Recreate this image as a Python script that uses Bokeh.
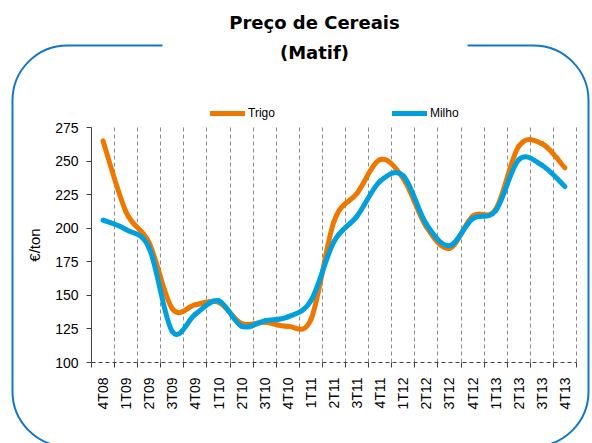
import math
import numpy as np
from bokeh.plotting import figure
from bokeh.models import (Range1d, FixedTicker, Legend, LegendItem,
                          BoxAnnotation, Label, Grid)
from bokeh.embed import file_html
from bokeh.resources import INLINE

# ---------------- data ----------------
quarters = ["4T08", "1T09", "2T09", "3T09", "4T09", "1T10", "2T10", "3T10",
            "4T10", "1T11", "2T11", "3T11", "4T11", "1T12", "2T12", "3T12",
            "4T12", "1T13", "2T13", "3T13", "4T13"]
trigo = [265, 212, 189, 140, 143, 145, 129, 130, 127, 132, 205, 226,
         251, 237, 201, 185, 209, 214, 261, 263, 245]
milho = [206, 199, 185, 123, 136, 146, 127, 131, 134, 146, 190, 209,
         235, 239, 203, 187, 207, 213, 251, 247, 231]
y_ticks = [100, 125, 150, 175, 200, 225, 250, 275]
title_lines = ["Preço de Cereais", "(Matif)"]
y_label = "€/ton"

# ---------------- layout (pixels on the canvas) ----------------
W, H = 592, 443
PL, PR, PT, PB = 91, 576, 127, 362   # plot area edges

ORANGE = "#EE7700"
BLUE = "#00A0DE"
FRAME_BLUE = "#1077CC"
AXIS = "#404040"

n = len(quarters)
centers = [i + 0.5 for i in range(n)]
boundaries = list(range(0, n + 1))

ymin, ymax = y_ticks[0], y_ticks[-1]
xu = (PR - PL) / n                # pixels per category
yu = (PB - PT) / (ymax - ymin)    # pixels per unit
x_range = Range1d(-PL / xu, n + (W - PR) / xu)
y_range = Range1d(ymin - (H - PB) / yu, ymax + PT / yu)

p = figure(width=W, height=H, output_backend="svg", toolbar_location=None,
           x_range=x_range, y_range=y_range,
           min_border=0, min_border_left=0, min_border_right=0,
           min_border_top=0, min_border_bottom=0)
p.title.visible = False
p.outline_line_color = None
p.background_fill_color = "white"
p.border_fill_color = "white"


def bezier_source(vals):
    xs = np.asarray(centers, float)
    ys = np.asarray(vals, float)
    px = np.concatenate([[xs[0]], xs, [xs[-1]]])
    py = np.concatenate([[ys[0]], ys, [ys[-1]]])
    m = len(xs)
    x0, y0 = xs[:-1], ys[:-1]
    x1, y1 = xs[1:], ys[1:]
    cx0 = x0 + (px[2:m + 1] - px[0:m - 1]) / 6.0
    cy0 = y0 + (py[2:m + 1] - py[0:m - 1]) / 6.0
    cx1 = x1 - (px[3:m + 2] - px[1:m]) / 6.0
    cy1 = y1 - (py[3:m + 2] - py[1:m]) / 6.0
    return dict(x0=x0, y0=y0, x1=x1, y1=y1, cx0=cx0, cy0=cy0, cx1=cx1, cy1=cy1)


# ---------------- grid ----------------
p.ygrid.visible = False
if "cross_bounds" in Grid.properties():
    p.xgrid.ticker = FixedTicker(ticks=boundaries[1:])
    p.xgrid.cross_bounds = (ymin, ymax)
    p.xgrid.grid_line_color = "#8C8C8C"
    p.xgrid.grid_line_dash = "4 3"
    p.xgrid.grid_line_width = 1
else:
    p.xgrid.visible = False
    p.segment(x0=boundaries[1:], x1=boundaries[1:],
              y0=[ymin] * n, y1=[ymax] * n,
              line_color="#8C8C8C", line_dash="4 3", line_width=1)

r_trigo = p.bezier(source=bezier_source(trigo), x0="x0", y0="y0", x1="x1", y1="y1",
                   cx0="cx0", cy0="cy0", cx1="cx1", cy1="cy1",
                   line_color=ORANGE, line_width=5, line_cap="round")
r_milho = p.bezier(source=bezier_source(milho), x0="x0", y0="y0", x1="x1", y1="y1",
                   cx0="cx0", cy0="cy0", cx1="cx1", cy1="cy1",
                   line_color=BLUE, line_width=5, line_cap="round")

# ---------------- axes ----------------
xa = p.xaxis[0]
xa.fixed_location = ymin
xa.bounds = (0, n)
xa.ticker = FixedTicker(ticks=centers, minor_ticks=boundaries)
xa.major_label_overrides = {c: q for c, q in zip(centers, quarters)}
xa.major_label_orientation = math.pi / 2
xa.major_tick_out = 0
xa.major_tick_in = 0
xa.minor_tick_out = 5
xa.minor_tick_in = 0
xa.minor_tick_line_color = AXIS
xa.axis_line_color = AXIS
xa.axis_line_dash = "4 3"
xa.major_label_standoff = 10
xa.major_label_text_font = "Liberation Sans"
xa.major_label_text_font_size = "14px"
xa.major_label_text_color = "black"

ya = p.yaxis[0]
ya.fixed_location = 0
ya.bounds = (ymin, ymax)
ya.ticker = FixedTicker(ticks=y_ticks)
ya.major_tick_out = 5
ya.major_tick_in = 0
ya.minor_tick_out = 0
ya.minor_tick_in = 0
ya.major_tick_line_color = AXIS
ya.axis_line_color = AXIS
ya.major_label_standoff = 8
ya.major_label_text_font = "Liberation Sans"
ya.major_label_text_font_size = "14px"
ya.major_label_text_color = "black"
ya.axis_label = y_label
ya.axis_label_standoff = 9
ya.axis_label_text_font = "Liberation Sans"
ya.axis_label_text_font_size = "15px"
ya.axis_label_text_font_style = "normal"
ya.axis_label_text_color = "black"


# ---------------- rounded frame, title, legend ----------------
def sy(canvas_y):
    return H - canvas_y


border = BoxAnnotation(left=12, right=588, top=sy(45), bottom=sy(446),
                       left_units="screen", right_units="screen",
                       top_units="screen", bottom_units="screen",
                       fill_alpha=0, line_color=FRAME_BLUE, line_alpha=1,
                       line_width=2, border_radius=55)
p.add_layout(border)
gap = BoxAnnotation(left=162, right=467, top=sy(37), bottom=sy(53),
                    left_units="screen", right_units="screen",
                    top_units="screen", bottom_units="screen",
                    fill_color="white", fill_alpha=1, line_alpha=0)
p.add_layout(gap)

for txt, yy in zip(title_lines, [22, 52]):
    p.add_layout(Label(x=314, y=sy(yy), x_units="screen", y_units="screen",
                       text=txt, text_align="center", text_baseline="middle",
                       text_font="DejaVu Sans", text_font_style="bold",
                       text_font_size="18px", text_color="black"))

legend = Legend(items=[LegendItem(label="Trigo", renderers=[r_trigo]),
                       LegendItem(label="Milho", renderers=[r_milho])],
                orientation="horizontal", location=(210, sy(120)),
                spacing=117, glyph_width=35, glyph_height=14, label_height=14,
                label_standoff=3, padding=0, margin=0,
                border_line_color=None, background_fill_alpha=0,
                label_text_font="Liberation Sans", label_text_font_size="12px",
                label_text_color="black")
p.add_layout(legend, "center")

open("out.html", "w").write(file_html(p, INLINE))
